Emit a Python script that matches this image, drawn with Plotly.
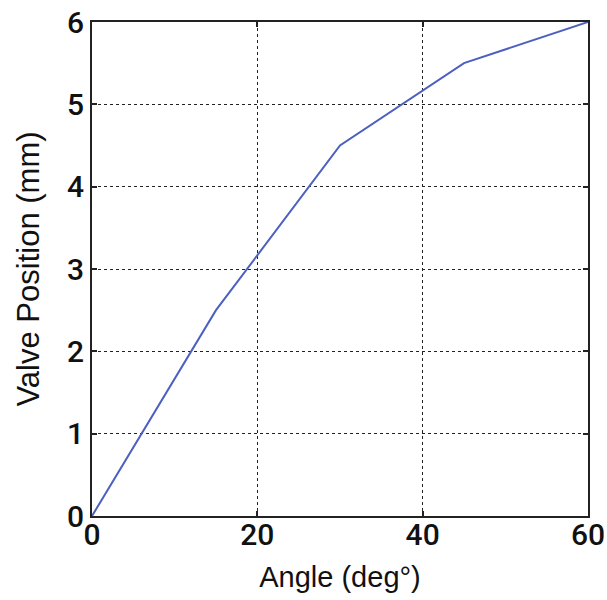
import plotly.graph_objects as go

angle_deg = [0, 15, 30, 45, 60]
valve_position_mm = [0, 2.5, 4.5, 5.5, 6]
x_ticks = [0, 20, 40, 60]
y_ticks = [0, 1, 2, 3, 4, 5, 6]

fig = go.Figure(go.Scatter(x=angle_deg, y=valve_position_mm, mode="lines",
                           line=dict(color="#4b60c0", width=2)))

font_tick = dict(family="Roboto", size=30, color="#111", weight=500)
axis_common = dict(showline=True, linecolor="#222", linewidth=2, mirror="ticks",
                   ticks="inside", ticklen=5, tickwidth=1.5, tickcolor="#222",
                   showgrid=True, gridcolor="#222", griddash="dot", gridwidth=1,
                   zeroline=False, tickfont=font_tick, automargin=False)

fig.update_layout(
    width=607, height=600,
    margin=dict(l=92, r=19, t=22, b=84),
    plot_bgcolor="white", paper_bgcolor="white",
    showlegend=False,
    xaxis=dict(range=[0, 60], tickvals=x_ticks, ticktext=[str(v) for v in x_ticks],
               title=dict(text="Angle (deg°)", font=dict(family="Liberation Sans, Arial", size=29, color="#111"),
                          standoff=16),
               ticklabelstandoff=-9,
               **axis_common),
    yaxis=dict(range=[0, 6], tickvals=y_ticks, ticktext=[str(v) for v in y_ticks],
               title=dict(text="Valve Position (mm)", font=dict(family="Liberation Sans, Arial", size=31, color="#111"),
                          standoff=18),
               **axis_common),
)

fig.write_html("out.html")
